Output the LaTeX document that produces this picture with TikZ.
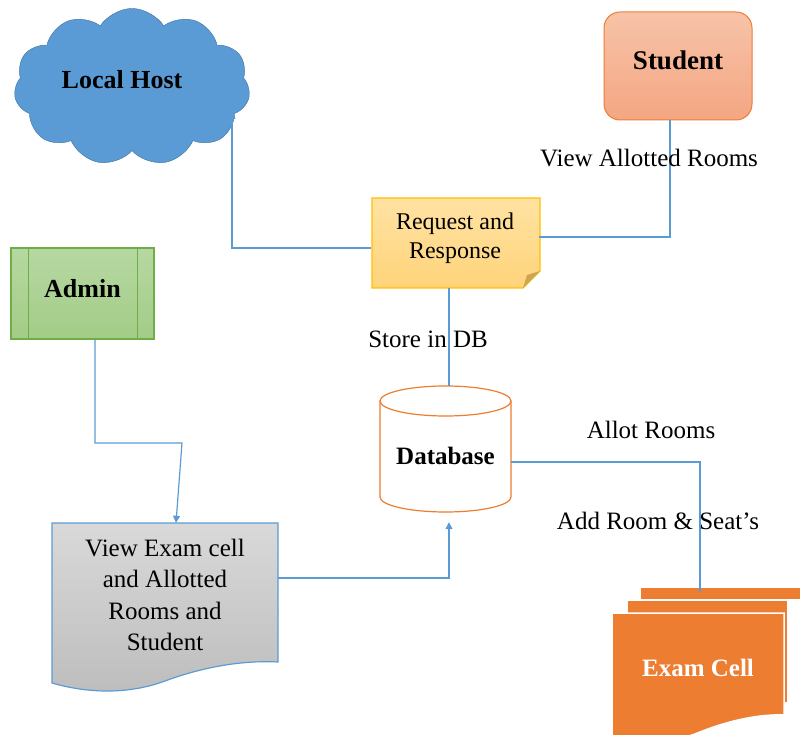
\documentclass[tikz,border=0pt]{standalone}
\usepackage{fontspec}
\setmainfont{Liberation Serif}
\usetikzlibrary{arrows.meta,shapes.symbols}

\definecolor{lineblue}{HTML}{5B9BD5}
\definecolor{cloudblue}{HTML}{5B9BD5}
\definecolor{cloudedge}{HTML}{41719C}
\definecolor{studtop}{HTML}{F7C3A8}
\definecolor{studbot}{HTML}{F4A682}
\definecolor{orangeedge}{HTML}{ED7D31}
\definecolor{notetop}{HTML}{FFE2A3}
\definecolor{notebot}{HTML}{FFD47A}
\definecolor{noteedge}{HTML}{FFC000}
\definecolor{notefold}{HTML}{CFA54E}
\definecolor{admintop}{HTML}{B6D8A2}
\definecolor{adminbot}{HTML}{A3CC87}
\definecolor{adminedge}{HTML}{70AD47}
\definecolor{greytop}{HTML}{D9D9D9}
\definecolor{greybot}{HTML}{BDBDBD}
\definecolor{examorange}{HTML}{ED7D31}

\begin{document}
\begin{tikzpicture}[>={Triangle[length=7pt,width=7pt]},x=1pt,y=1pt,
  conn/.style={draw=lineblue,line width=1.2pt},
  lbl/.style={font=\fontsize{25}{30}\selectfont},
  heading/.style={font=\fontsize{26}{30}\selectfont\bfseries},
  page/.style={fill=examorange,draw=white,line width=1.5pt}]
  \useasboundingbox (0,0) rectangle (800,734);
  \clip (0,0) rectangle (800,734);
  % Local host cloud
  \node[cloud,cloud puffs=11,cloud puff arc=115,aspect=1.6,draw=cloudedge,fill=cloudblue,
        minimum width=236,minimum height=140,text depth=16pt,heading] (host) at (132,647) {Local Host\hspace*{20pt}};
  % Student
  \node[rectangle,rounded corners=16pt,draw=orangeedge,line width=1pt,top color=studtop,
        bottom color=studbot,minimum width=148,minimum height=108,text depth=12pt,
        font=\fontsize{27}{30}\selectfont\bfseries] (student) at (678,668) {Student};
  % Request and response note with folded corner
  \draw[draw=noteedge,line width=1.2pt,top color=notetop,bottom color=notebot]
    (372,536) -- (540,536) -- (540,463) -- (523,446) -- (372,446) -- cycle;
  \fill[notefold] (523,446) -- (527,459) -- (540,463) -- cycle;
  \node[minimum width=168,minimum height=80,align=center,font=\fontsize{24}{29}\selectfont]
    (req) at (455,496) {Request and\\Response};
  % Admin (predefined process)
  \node[rectangle,draw=adminedge,line width=1.2pt,top color=admintop,bottom color=adminbot,
        minimum width=143,minimum height=91,text depth=11pt,heading] (admin) at (82.5,440.5) {Admin};
  \draw[adminedge,line width=1.2pt] ([xshift=18pt]admin.north west) -- ([xshift=18pt]admin.south west);
  \draw[adminedge,line width=1.2pt] ([xshift=-17pt]admin.north east) -- ([xshift=-17pt]admin.south east);
  % Database cylinder
  \draw[orangeedge,line width=1.2pt,fill=white] (380,333) -- (380,237)
    arc[start angle=180,end angle=360,x radius=65.5,y radius=15] -- (511,333);
  \draw[orangeedge,line width=1.2pt] (445.5,333) ellipse[x radius=65.5,y radius=15];
  \node[minimum width=131,minimum height=140,font=\fontsize{25}{30}\selectfont\bfseries]
    (db) at (445.5,278) {Database};
  % Document
  \draw[draw=lineblue,line width=1.2pt,top color=greytop,bottom color=greybot]
    (52,211) -- (278,211) -- (278,72) .. controls (240,74) and (200,66) .. (165,53)
    .. controls (130,40) and (90,40) .. (52,51) -- cycle;
  \node[minimum width=226,minimum height=144,align=center,font=\fontsize{25}{31.5}\selectfont]
    (doc) at (165,139) {View Exam cell\\and Allotted\\Rooms and\\Student};
  % Exam cell (multi document)
  \fill[page] (640,147) rectangle (812,134);
  \fill[page] (627,134) rectangle (788,31);
  \draw[page] (612,121) -- (784,121) -- (784,19) .. controls (760,20) and (730,14) .. (700,2)
    .. controls (670,-10) and (640,-14) .. (612,-10) -- cycle;
  \node[text=white,font=\fontsize{25}{30}\selectfont\bfseries] (exam) at (698,66) {Exam Cell};
  % Connectors
  \coordinate (hostin) at (232,622);
  \coordinate (bend) at (182,291);
  \coordinate (pgtop) at (700,142);
  \draw[conn,->] ([yshift=-10pt]req.west) -| (hostin);
  \draw[conn] ([xshift=-8pt]student.south) |- ([yshift=1pt]req.east);
  \draw[conn] ([xshift=-6pt,yshift=-10pt]req.south) -- ([xshift=3.5pt]db.north);
  \draw[conn,->] ([xshift=12.5pt]admin.south) |- (bend) -- ([xshift=11pt]doc.north);
  \draw[conn,->] ([yshift=17pt]doc.east) -| ([xshift=3.5pt,yshift=4pt]db.south);
  \draw[conn] ([yshift=-6pt]db.east) -| (pgtop);
  % Labels
  \node[lbl] (lview) at (649,576) {View Allotted Rooms};
  \node[lbl] (lstore) at (428,395) {Store in DB};
  \node[lbl] (lallot) at (651,304) {Allot Rooms};
  \node[lbl] (ladd) at (658,213) {Add Room \& Seat’s};
\end{tikzpicture}
\end{document}
